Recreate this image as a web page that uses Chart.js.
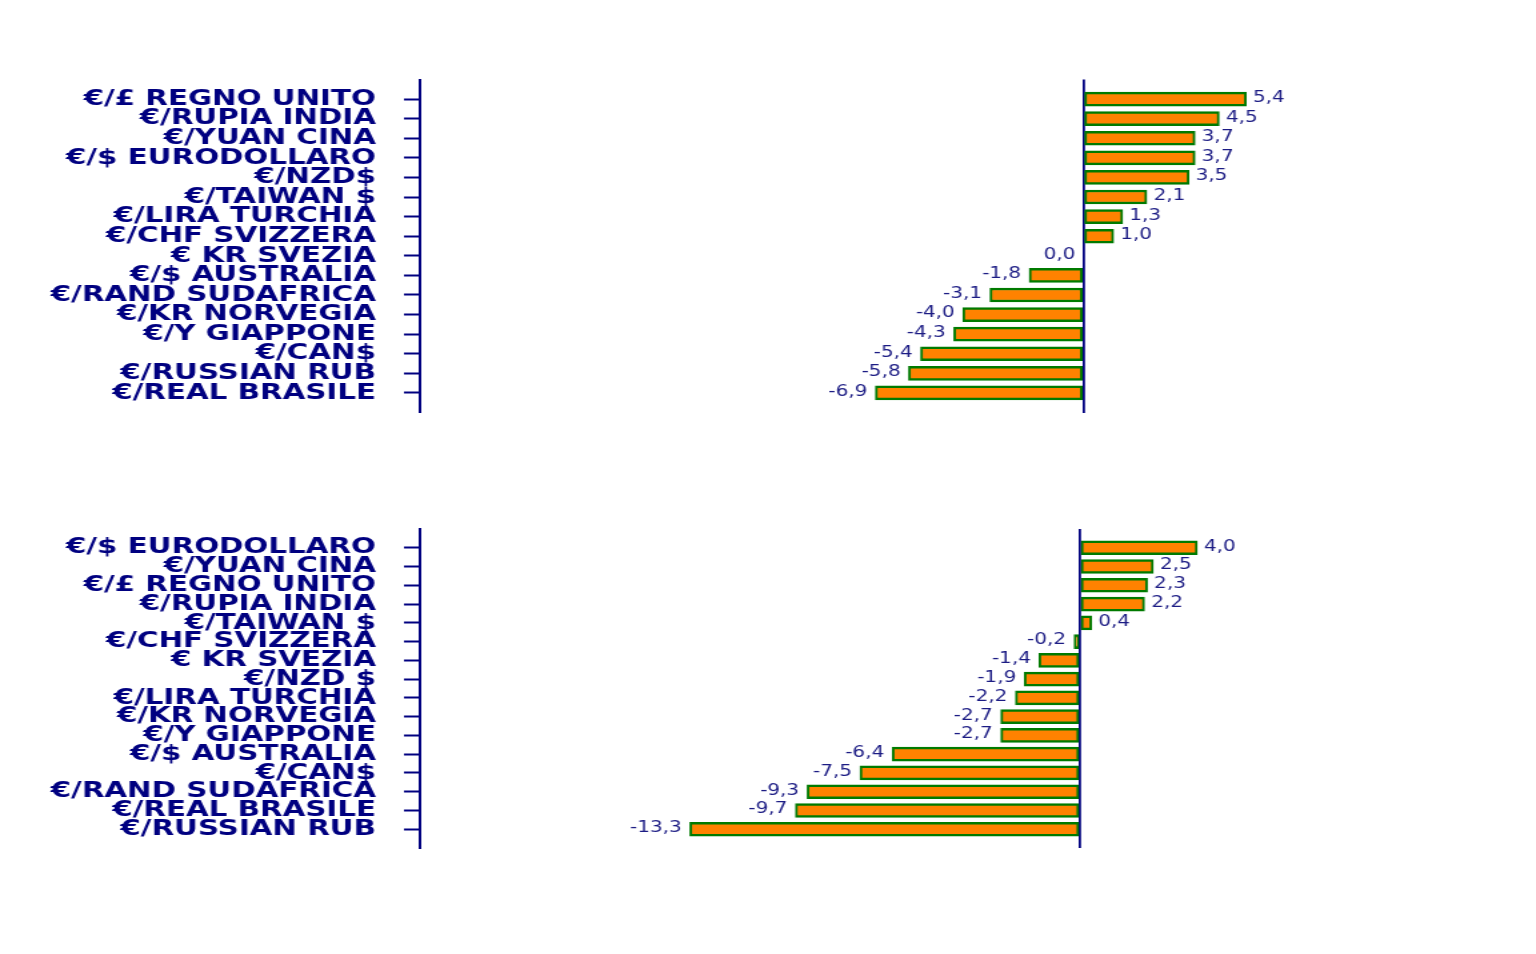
<!DOCTYPE html>
<html>
<head>
<meta charset="utf-8">
<script src="https://cdn.jsdelivr.net/npm/chart.js@4.4.1/dist/chart.umd.min.js"></script>
<style>
  html, body { margin: 0; padding: 0; background: #ffffff; overflow: hidden; }
  canvas { position: absolute; left: 0; }
  #c1 { top: 0; width: 1536px !important; height: 477px !important; }
  #c2 { top: 477px; width: 1536px !important; height: 477px !important; }
</style>
</head>
<body>
<canvas id="c1" width="1152" height="477" style="width:1536px;height:477px"></canvas>
<canvas id="c2" width="1152" height="477" style="width:1536px;height:477px"></canvas>
<script>
// ---- DATA ----
const categoriesTop = ['€/£ REGNO UNITO','€/RUPIA INDIA','€/YUAN CINA','€/$ EURODOLLARO','€/NZD$','€/TAIWAN $','€/LIRA TURCHIA','€/CHF SVIZZERA','€ KR SVEZIA','€/$ AUSTRALIA','€/RAND SUDAFRICA','€/KR NORVEGIA','€/Y GIAPPONE','€/CAN$','€/RUSSIAN RUB','€/REAL BRASILE'];
const valuesTop = [5.4, 4.5, 3.7, 3.7, 3.5, 2.1, 1.3, 1.0, 0.0, -1.8, -3.1, -4.0, -4.3, -5.4, -5.8, -6.9];

const categoriesBottom = ['€/$ EURODOLLARO','€/YUAN CINA','€/£ REGNO UNITO','€/RUPIA INDIA','€/TAIWAN $','€/CHF SVIZZERA','€ KR SVEZIA','€/NZD $','€/LIRA TURCHIA','€/KR NORVEGIA','€/Y GIAPPONE','€/$ AUSTRALIA','€/CAN$','€/RAND SUDAFRICA','€/REAL BRASILE','€/RUSSIAN RUB'];
const valuesBottom = [4.0, 2.5, 2.3, 2.2, 0.4, -0.2, -1.4, -1.9, -2.2, -2.7, -2.7, -6.4, -7.5, -9.3, -9.7, -13.3];

const xRangeTop = [-22, 13.5];
const xRangeBottom = [-22.5, 14];

// ---- STYLE ----
const NAVY = '#000080';
const VALUE_COLOR = '#1c1c84';
const BAR_FILL = '#ff8200';
const BAR_BORDER = '#007a00';

const valueLabels = {
  id: 'valueLabels',
  afterDatasetsDraw(chart) {
    const ctx = chart.ctx;
    const ds = chart.data.datasets[0];
    const meta = chart.getDatasetMeta(0);
    ctx.save();
    ctx.font = '15px "DejaVu Sans"';
    ctx.fillStyle = VALUE_COLOR;
    ctx.textBaseline = 'middle';
    meta.data.forEach((el, i) => {
      const v = ds.data[i];
      if (v === null || v === undefined) return;
      const txt = v.toFixed(1).replace('.', ',');
      if (v > 0) {
        ctx.textAlign = 'left';
        ctx.fillText(txt, el.x + 5, el.y - 1);
      } else {
        ctx.textAlign = 'right';
        ctx.fillText(txt, el.x - 6, el.y - 1);
      }
    });
    ctx.restore();
  }
};

function makeChart(id, cats, vals, range, padTop, padBottom) {
  const labels = [''].concat(cats, ['']);
  const data = [null].concat(vals, [null]);
  const last = labels.length - 1;
  return new Chart(document.getElementById(id), {
    type: 'bar',
    data: {
      labels: labels,
      datasets: [{
        data: data,
        backgroundColor: (c) => (c.raw === 0 ? 'rgba(0,0,0,0)' : BAR_FILL),
        borderColor: BAR_BORDER,
        borderWidth: (c) => (c.raw === 0 ? 0 : {top: 2.5, bottom: 2.5, left: 2, right: 2}),
        borderSkipped: false,
        barThickness: 14
      }]
    },
    options: {
      indexAxis: 'y',
      responsive: false,
      animation: false,
      devicePixelRatio: 1,
      layout: { padding: { top: padTop, bottom: padBottom, left: 0, right: 34 } },
      plugins: { legend: { display: false }, tooltip: { enabled: false } },
      scales: {
        x: {
          type: 'linear',
          min: range[0],
          max: range[1],
          afterBuildTicks: (s) => { s.ticks = [{ value: 0 }]; },
          afterFit: (s) => { s.height = 0; },
          ticks: { display: false },
          border: { display: false },
          grid: {
            drawTicks: false,
            color: (c) => (c.tick && c.tick.value === 0 ? NAVY : 'rgba(0,0,0,0)'),
            lineWidth: 1.8
          }
        },
        y: {
          type: 'category',
          offset: false,
          afterFit: (s) => { s.width = 315; },
          ticks: {
            autoSkip: false,
            color: NAVY,
            padding: 21,
            font: { family: '"DejaVu Sans"', weight: 'bold', size: 22 }
          },
          border: { display: true, color: NAVY, width: 2 },
          grid: {
            offset: false,
            drawOnChartArea: false,
            drawTicks: true,
            tickLength: 12,
            tickWidth: 2,
            tickColor: (c) => (c.index === 0 || c.index === last ? 'rgba(0,0,0,0)' : NAVY)
          }
        }
      }
    },
    plugins: [valueLabels]
  });
}

makeChart('c1', categoriesTop, valuesTop, xRangeTop, 79.5, 64.5);
makeChart('c2', categoriesBottom, valuesBottom, xRangeBottom, 52, 106);
</script>
</body>
</html>
